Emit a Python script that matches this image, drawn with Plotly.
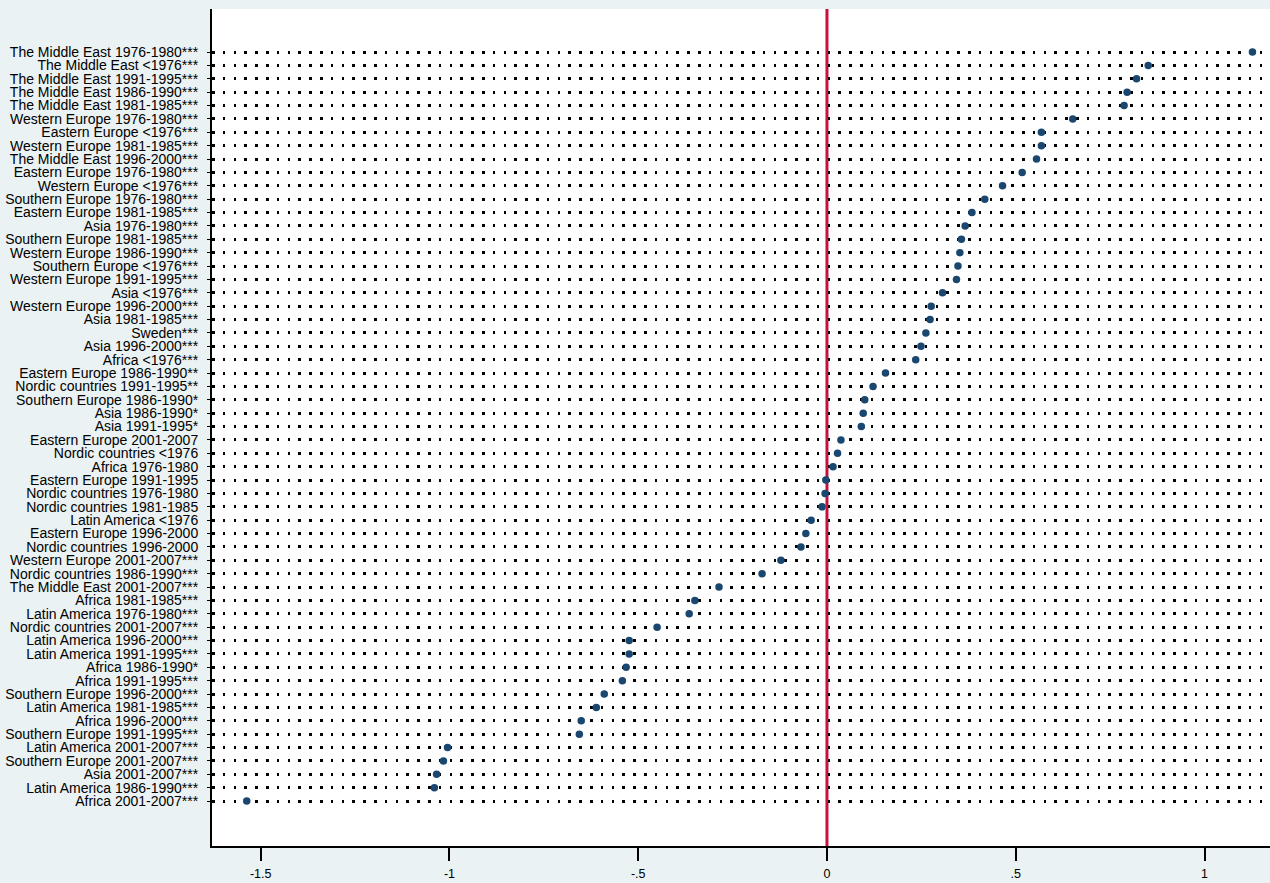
import plotly.graph_objects as go

labels = [
    "The Middle East 1976-1980***", "The Middle East <1976***", "The Middle East 1991-1995***",
    "The Middle East 1986-1990***", "The Middle East 1981-1985***", "Western Europe 1976-1980***",
    "Eastern Europe <1976***", "Western Europe 1981-1985***", "The Middle East 1996-2000***",
    "Eastern Europe 1976-1980***", "Western Europe <1976***", "Southern Europe 1976-1980***",
    "Eastern Europe 1981-1985***", "Asia 1976-1980***", "Southern Europe 1981-1985***",
    "Western Europe 1986-1990***", "Southern Europe <1976***", "Western Europe 1991-1995***",
    "Asia <1976***", "Western Europe 1996-2000***", "Asia 1981-1985***", "Sweden***",
    "Asia 1996-2000***", "Africa <1976***", "Eastern Europe 1986-1990**",
    "Nordic countries 1991-1995**", "Southern Europe 1986-1990*", "Asia 1986-1990*",
    "Asia 1991-1995*", "Eastern Europe 2001-2007", "Nordic countries <1976", "Africa 1976-1980",
    "Eastern Europe 1991-1995", "Nordic countries 1976-1980", "Nordic countries 1981-1985",
    "Latin America <1976", "Eastern Europe 1996-2000", "Nordic countries 1996-2000",
    "Western Europe 2001-2007***", "Nordic countries 1986-1990***", "The Middle East 2001-2007***",
    "Africa 1981-1985***", "Latin America 1976-1980***", "Nordic countries 2001-2007***",
    "Latin America 1996-2000***", "Latin America 1991-1995***", "Africa 1986-1990*",
    "Africa 1991-1995***", "Southern Europe 1996-2000***", "Latin America 1981-1985***",
    "Africa 1996-2000***", "Southern Europe 1991-1995***", "Latin America 2001-2007***",
    "Southern Europe 2001-2007***", "Asia 2001-2007***", "Latin America 1986-1990***",
    "Africa 2001-2007***",
]

values = [
    1.127, 0.851, 0.820, 0.795, 0.787, 0.651, 0.568, 0.568, 0.555, 0.517,
    0.465, 0.418, 0.384, 0.366, 0.356, 0.352, 0.347, 0.343, 0.306, 0.276,
    0.273, 0.262, 0.249, 0.235, 0.155, 0.122, 0.100, 0.096, 0.091, 0.037,
    0.028, 0.016, -0.003, -0.005, -0.013, -0.042, -0.056, -0.069, -0.122, -0.172,
    -0.286, -0.350, -0.365, -0.450, -0.524, -0.524, -0.532, -0.542, -0.590, -0.611,
    -0.651, -0.656, -1.005, -1.016, -1.034, -1.040, -1.537,
]

x_tickvals = [-1.5, -1, -0.5, 0, 0.5, 1]
x_ticktext = ["-1.5", "-1", "-.5", "0", ".5", "1"]

positions = list(range(len(labels)))

fig = go.Figure()
fig.add_trace(go.Scatter(
    x=values, y=positions, mode="markers",
    marker=dict(color="#1a476f", size=7.5),
    showlegend=False, hoverinfo="x+text", text=labels,
))

fig.add_vline(x=0, line=dict(color="#c8103c", width=3), layer="below")

font_family = "Liberation Sans, Arial, sans-serif"

fig.update_layout(
    width=1270, height=883,
    margin=dict(l=212, r=0, t=9, b=37, autoexpand=False),
    paper_bgcolor="#eaf2f3",
    plot_bgcolor="#ffffff",
    font=dict(family=font_family, color="#000000"),
    showlegend=False,
)

fig.update_xaxes(
    range=[-1.629, 1.1735],
    tickvals=x_tickvals, ticktext=x_ticktext,
    ticks="outside", ticklen=13, tickwidth=1.5, tickcolor="#000000",
    showline=True, linecolor="#000000", linewidth=2,
    showgrid=False, zeroline=False, automargin=False,
    tickfont=dict(size=12.5, family=font_family, color="#000000"),
    ticklabelstandoff=2,
)

fig.update_yaxes(
    range=[59.36, -3.215],
    tickvals=positions, ticktext=labels,
    ticks="outside", ticklen=3, tickwidth=1, tickcolor="#000000",
    showline=True, linecolor="#000000", linewidth=2,
    showgrid=True, gridcolor="#000000", gridwidth=2.5, griddash="2.5px,8.3px",
    zeroline=False, automargin=False,
    tickfont=dict(size=14, family=font_family, color="#000000"),
    ticklabelstandoff=6,
)

fig.write_html(
    "out.html",
    config={"displayModeBar": False},
    post_script="document.body.style.margin='0';document.body.style.overflow='hidden';",
)
